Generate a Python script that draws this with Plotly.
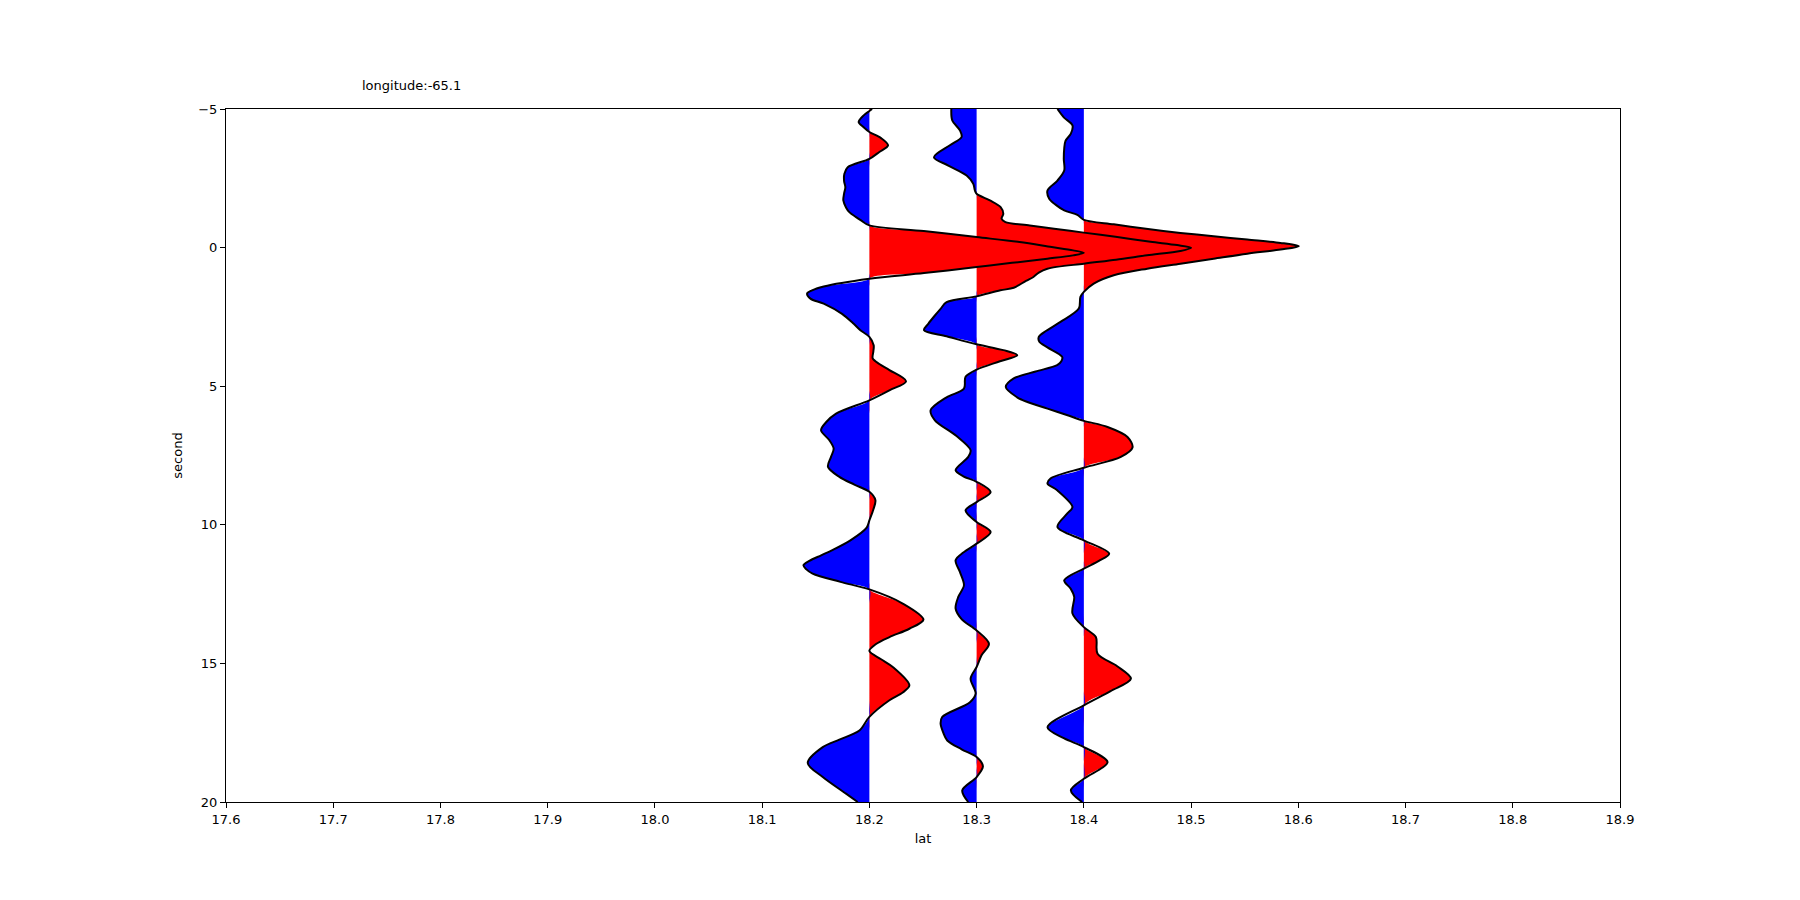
import numpy as np
import plotly.graph_objects as go

# Station latitudes (trace baselines)
lats = [18.2, 18.3, 18.4]

# Trace at lat 18.2 : time (s) and amplitude (milli-degrees of lat offset)
t1 = [-5.00, -4.77, -4.53, -4.35, -4.17, -3.95, -3.69, -3.45, -3.20, -2.90, -2.66, -2.40, -2.18,
      -1.95, -1.70, -1.45, -1.28, -1.10, -0.98, -0.80, -0.60, -0.38, -0.20, -0.02, 0.10, 0.19,
      0.28, 0.40, 0.55, 0.70, 0.92, 1.12, 1.40, 1.55, 1.66, 1.84, 2.02, 2.39, 2.75, 2.98, 3.22,
      3.52, 3.75, 4.00, 4.20, 4.42, 4.82, 5.15, 5.51, 5.99, 6.30, 6.59, 6.95, 7.25, 7.55, 7.91,
      8.27, 8.55, 8.81, 9.11, 9.45, 9.84, 10.10, 10.56, 10.92, 11.10, 11.30, 11.46, 11.60, 11.76,
      12.06, 12.33, 12.84, 13.42, 13.75, 14.05, 14.30, 14.55, 14.85, 15.13, 15.79, 16.05, 16.33,
      16.93, 17.42, 17.75, 18.02, 18.59, 19.10, 19.70, 20.00]
a1 = [2.5, -5.3, -10.0, -5.6, 0.0, 10.9, 17.4, 9.3, 0.0, -20.2, -23.3, -23.6, -22.4,
      -23.6, -24.3, -21.8, -18.7, -12.4, -7.8, 0.0, 50.7, 100.0, 140.0, 170.0, 190.0, 200.0,
      190.0, 166.0, 133.0, 100.0, 51.0, 0.0, -42.6, -54.0, -58.1, -55.0, -42.6, -25.5, -14.6, -8.4, 0.0,
      4.0, 3.7, 3.1, 9.3, 18.7, 34.2, 18.7, 0.0, -31.1, -40.4, -45.1, -37.3, -33.3, -35.8, -38.6,
      -28.0, -14.0, 0.0, 5.6, 3.7, 0.0, -2.5, -17.7, -35.0, -45.0, -56.0, -61.5, -59.0, -53.0,
      -27.0, 0.0, 31.1, 50.4, 37.3, 18.7, 6.2, 0.0, 10.9, 21.8, 37.3, 31.1, 18.7,
      0.0, -9.3, -28.0, -43.5, -57.5, -43.5, -21.8, -10.9]

# Trace at lat 18.3
t2 = [-5.00, -4.59, -4.23, -3.99, -3.69, -3.26, -2.96, -2.60, -2.30, -2.06, -1.94, -1.70, -1.46,
      -1.22, -1.04, -0.92, -0.80, -0.68, -0.54, -0.39, -0.21, -0.09, 0.01, 0.12, 0.28, 0.44, 0.58,
      0.76, 0.90, 1.06, 1.20, 1.45, 1.54, 1.76, 1.97, 2.21, 2.45, 2.75, 2.98, 3.20, 3.49, 3.70,
      3.88, 4.10, 4.40, 4.66, 5.09, 5.40, 5.87, 6.23, 6.80, 7.31, 7.55, 8.03, 8.25, 8.45, 8.82,
      9.18, 9.48, 9.90, 10.26, 10.68, 11.00, 11.28, 11.70, 12.18, 12.60, 13.02, 13.40, 13.81,
      14.29, 14.70, 15.13, 15.55, 16.09, 16.40, 16.93, 17.17, 17.50, 17.78, 18.10, 18.38, 18.71,
      19.10, 19.58, 20.00]
a2 = [-23.6, -22.7, -15.6, -14.0, -24.9, -39.8, -26.4, -9.3, -3.1, -1.6, 0.0, 12.4, 22.4,
      24.9, 23.3, 26.9, 49.6, 72.3, 99.9, 129.5, 162.2, 187.0, 200.0, 190.0, 159.0, 130.0, 100.0,
      66.0, 58.0, 53.0, 46.0, 34.6, 22.2, 0.0, -28.0, -33.6, -38.9, -45.1, -49.1, -28.0, 0.0, 24.9,
      37.9, 21.8, 0.0, -10.3, -11.8, -28.0, -42.9, -38.9, -18.7, -5.6, -7.8, -19.6, -12.4, 0.0, 13.1,
      0.0, -10.3, 0.0, 13.1, 0.0, -12.4, -19.6, -15.6, -11.8, -17.1, -19.6, -14.0, 0.0,
      11.5, 4.7, 0.0, -5.6, -0.9, -6.2, -32.0, -33.6, -31.1, -27.4, -14.0, 0.0, 5.9,
      0.0, -13.4, -7.8]

# Trace at lat 18.4
t3 = [-5.00, -4.70, -4.41, -4.11, -3.85, -3.57, -3.20, -2.78, -2.42, -2.06, -1.76, -1.55, -1.34,
      -1.18, -1.00, -0.84, -0.68, -0.53, -0.41, -0.29, -0.17, -0.05, 0.07, 0.22, 0.40, 0.58, 0.76,
      1.00, 1.30, 1.60, 1.78, 2.20, 2.68, 3.00, 3.22, 3.40, 3.60, 3.94, 4.10, 4.24, 4.47, 4.72,
      5.03, 5.40, 5.57, 5.81, 6.05, 6.25, 6.47, 6.83, 7.21, 7.55, 7.94, 8.33, 8.51, 8.76, 9.36,
      9.60, 10.08, 10.56, 11.04, 11.30, 11.58, 12.00, 12.30, 12.60, 13.20, 13.69, 14.05, 14.65,
      15.10, 15.55, 16.00, 16.51, 17.30, 17.70, 18.02, 18.56, 19.16, 19.58, 20.00]
a3 = [-24.6, -18.7, -10.6, -12.1, -17.1, -18.3, -18.7, -18.3, -24.6, -33.9, -32.3, -26.4, -18.3,
      -6.0, 0.0, 27.9, 58.0, 90.1, 121.0, 152.4, 183.4, 200.5, 183.4, 152.4, 121.0, 90.1, 59.1,
      27.9, 9.2, 0.0, -3.2, -4.7, -21.8, -35.0, -42.0, -41.5, -34.0, -20.2, -21.0, -24.9, -45.0, -65.4,
      -72.8, -62.2, -52.6, -33.9, -15.2, 0.0, 22.1, 40.7, 45.4, 34.5, 0.0, -31.1, -33.9, -24.6, -10.6,
      -15.6, -24.6, 0.0, 23.6, 14.0, 0.0, -18.3, -12.4, -9.0, -10.6, 0.0, 11.2, 12.8,
      31.1, 43.9, 24.9, 0.0, -33.9, -18.7, 0.0, 22.1, 0.0, -12.1, -1.6]

x_ticks = [17.6, 17.7, 17.8, 17.9, 18.0, 18.1, 18.2, 18.3, 18.4, 18.5, 18.6, 18.7, 18.8, 18.9]
y_ticks = [-5, 0, 5, 10, 15, 20]
title_text = "longitude:-65.1"

FONT = "DejaVu Sans"


def with_crossings(t, a):
    t = np.asarray(t, float)
    a = np.asarray(a, float) / 1000.0
    tt, aa = [t[0]], [a[0]]
    for i in range(1, len(t)):
        if a[i - 1] * a[i] < 0:
            tc = t[i - 1] + (t[i] - t[i - 1]) * a[i - 1] / (a[i - 1] - a[i])
            tt.append(tc)
            aa.append(0.0)
        tt.append(t[i])
        aa.append(a[i])
    return np.array(tt), np.array(aa)


fig = go.Figure()
series = [(lats[0], t1, a1), (lats[1], t2, a2), (lats[2], t3, a3)]
outlines = []
for base, t, a in series:
    tt, aa = with_crossings(t, a)
    for part, col in ((np.maximum(aa, 0), "#ff0000"), (np.minimum(aa, 0), "#0000ff")):
        fig.add_trace(go.Scatter(x=np.full(len(tt), base), y=tt, mode="lines",
                                 line=dict(width=0, color=col), showlegend=False,
                                 hoverinfo="skip"))
        fig.add_trace(go.Scatter(x=base + part, y=tt, mode="lines", fill="tonextx",
                                 fillcolor=col, line=dict(width=0, color=col, shape="spline",
                                                          smoothing=0.9),
                                 showlegend=False, hoverinfo="skip"))
    outlines.append((base + aa, tt))

for x, y in outlines:
    fig.add_trace(go.Scatter(x=x, y=y, mode="lines",
                             line=dict(color="black", width=2, shape="spline", smoothing=0.9),
                             showlegend=False, hoverinfo="skip"))

fig.add_annotation(text=title_text, xref="paper", yref="paper", x=0.0963, y=1.034,
                   xanchor="left", yanchor="middle", showarrow=False,
                   font=dict(family=FONT, size=13, color="black"))

axis_common = dict(showgrid=False, zeroline=False, showline=True, mirror=True,
                   linecolor="black", linewidth=1, ticks="outside", ticklen=5,
                   tickcolor="black", tickwidth=1,
                   tickfont=dict(family=FONT, size=13, color="black"))

# the page body adds an 8px offset, so margins are shifted to compensate
fig.update_layout(
    width=1800, height=900,
    margin=dict(l=218, r=188, t=101, b=106),
    paper_bgcolor="white", plot_bgcolor="white",
    font=dict(family=FONT, size=13, color="black"),
    xaxis=dict(range=[17.6, 18.9], tickvals=x_ticks,
               ticktext=[f"{v:.1f}" for v in x_ticks],
               title=dict(text="lat", standoff=8, font=dict(family=FONT, size=13)),
               **axis_common),
    yaxis=dict(range=[20, -5], tickvals=y_ticks,
               ticktext=[str(v).replace("-", "\u2212") for v in y_ticks],
               title=dict(text="second", standoff=12, font=dict(family=FONT, size=13)),
               **axis_common),
)

fig.write_html("out.html")
